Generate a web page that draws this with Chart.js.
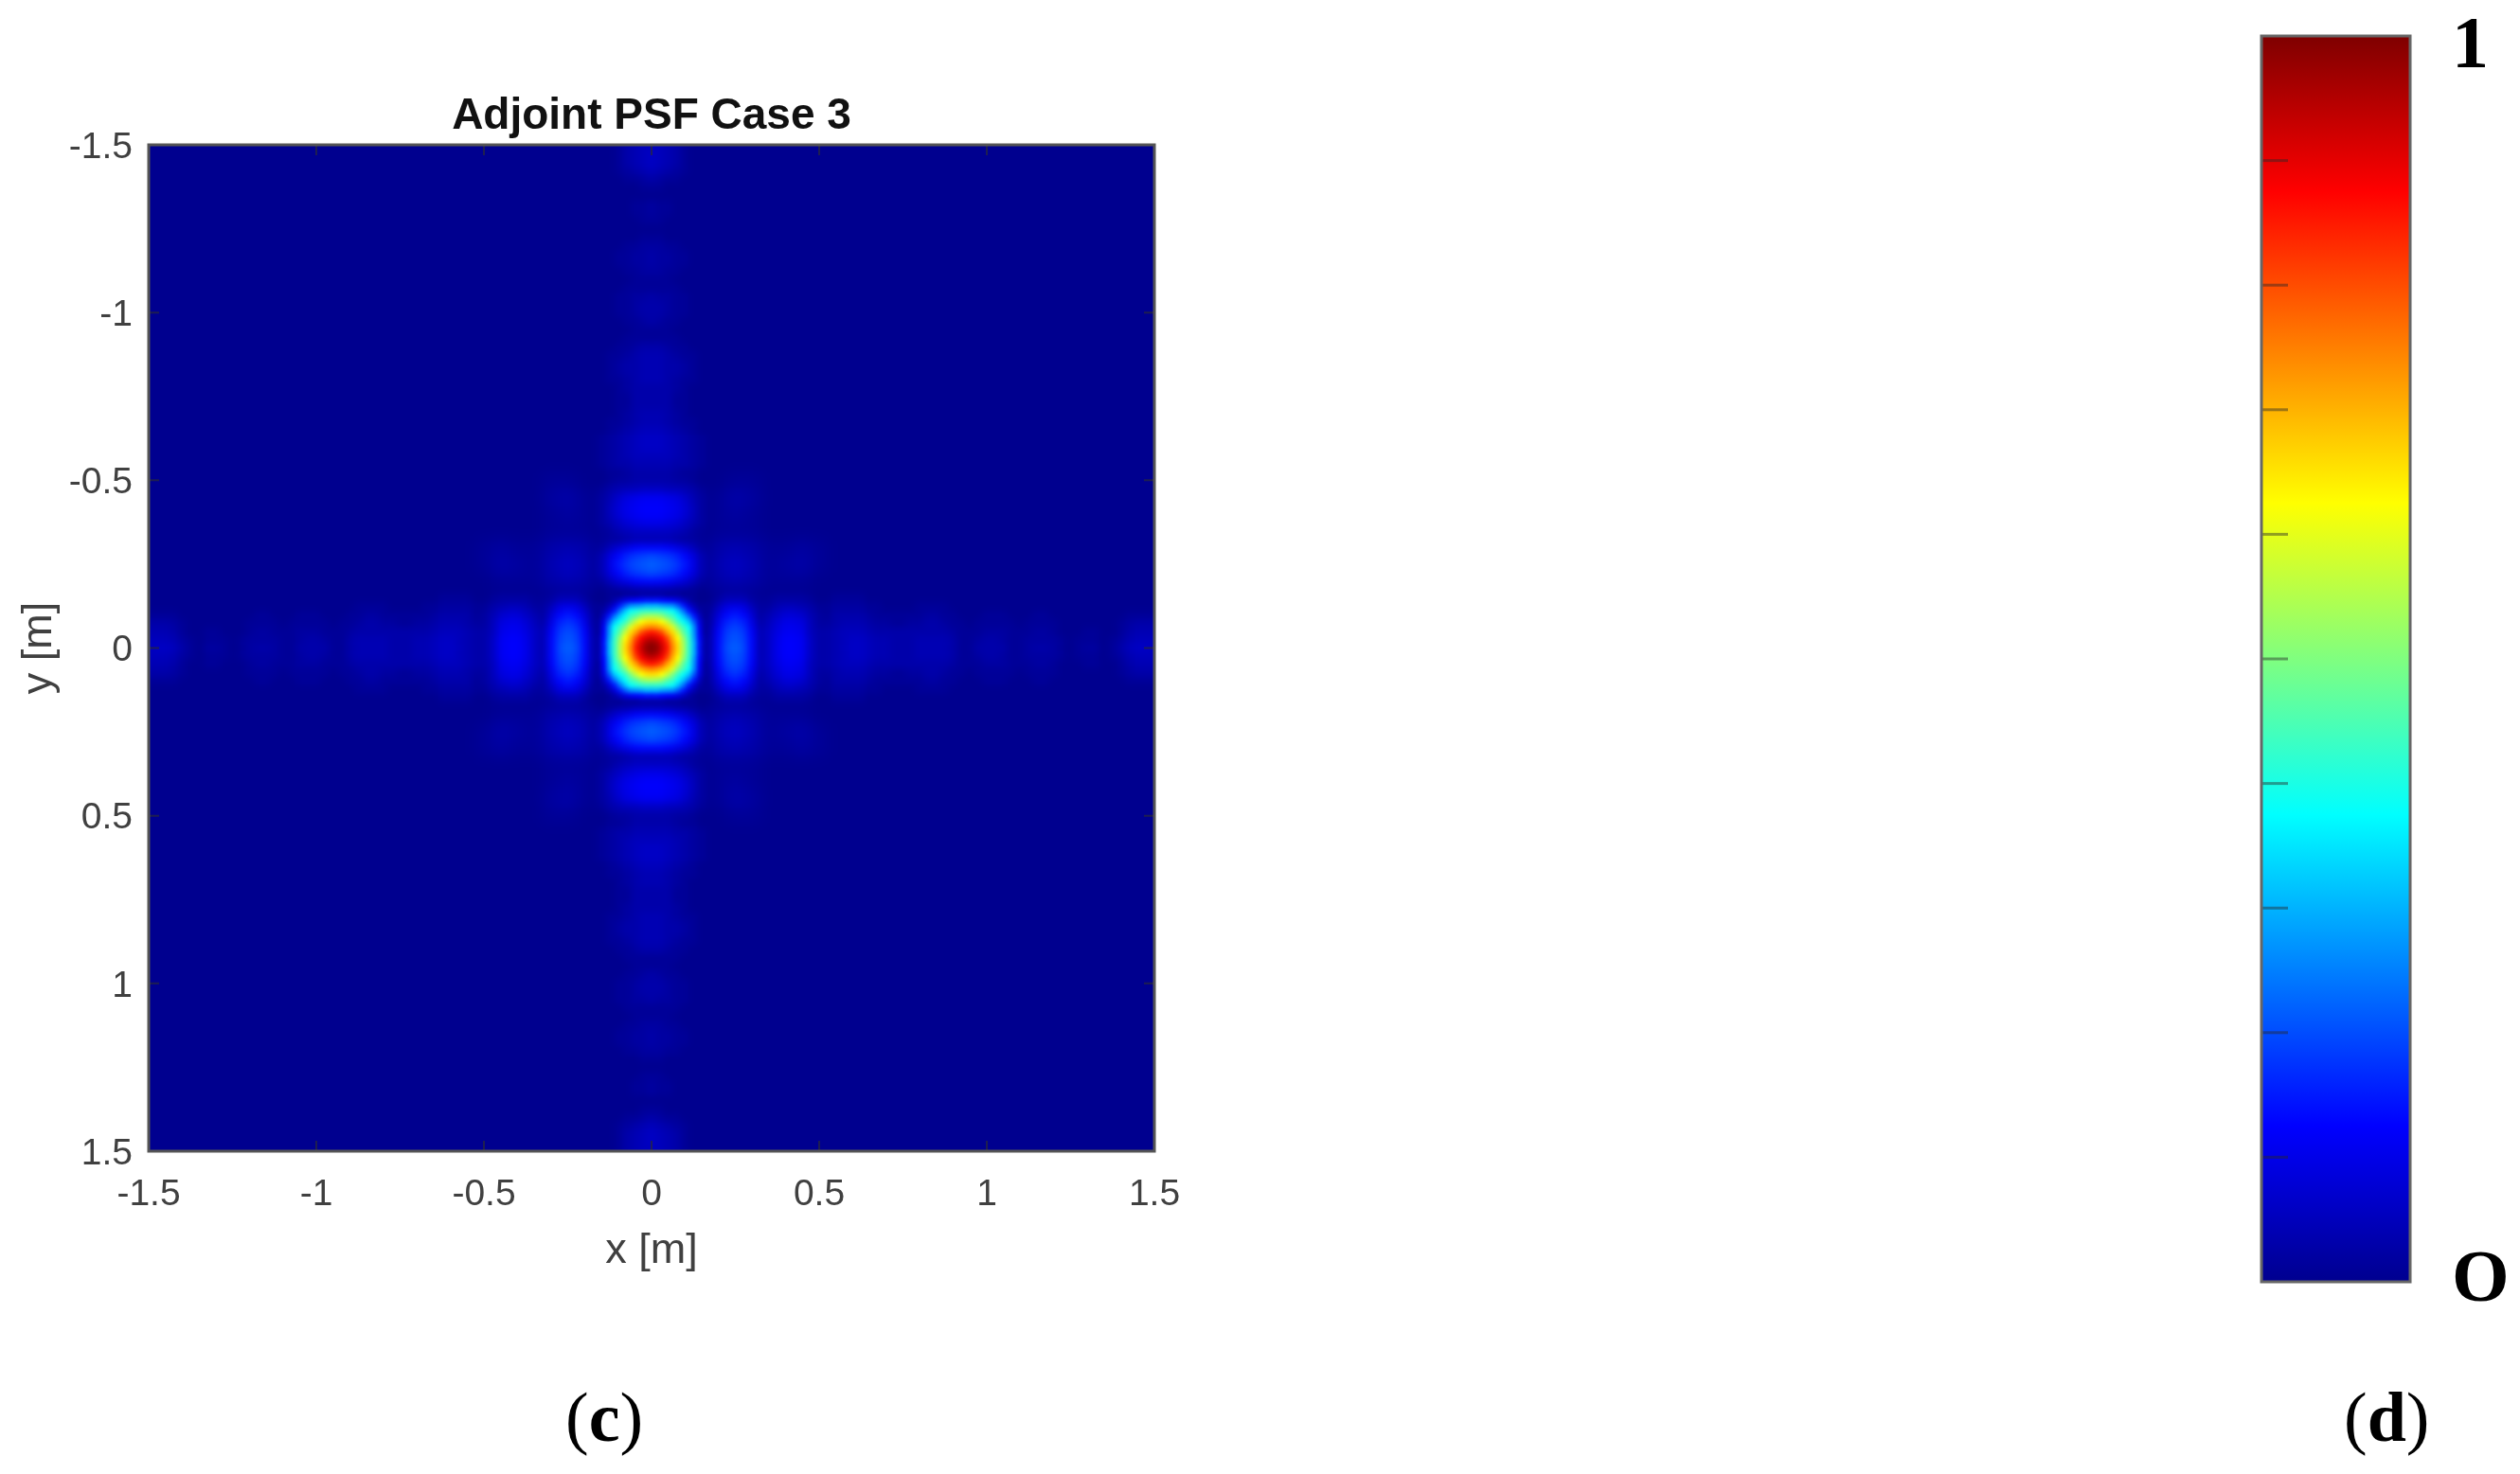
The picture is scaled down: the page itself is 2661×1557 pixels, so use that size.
<!DOCTYPE html>
<html>
<head>
<meta charset="utf-8">
<script src="https://cdn.jsdelivr.net/npm/chart.js@4"></script>
<style>
    html, body { margin: 0; padding: 0; background: #fff; }
    canvas { position: absolute; left: 0; top: 0; }
    .caption { position: absolute; top: 1460px; font: 74px/74px "Liberation Serif", serif; color: #000; }
</style>
</head>
<body>
<canvas id="psf" width="2661" height="1557"></canvas>
<canvas id="bar" width="2661" height="1557"></canvas>
<div class="caption" style="left:597px">(<b>c</b>)</div>
<div class="caption" style="left:2475px">(<b>d</b>)</div>
<script>
var titleText = 'Adjoint PSF Case 3';
var xLabel = 'x [m]';
var yLabel = 'y [m]';
var tickValues = [-1.5, -1, -0.5, 0, 0.5, 1, 1.5];
var barTicks = [0.1, 0.2, 0.3, 0.4, 0.5, 0.6, 0.7, 0.8, 0.9];
// the "1" sits a little below the top edge of the bar in the source
var barLabelTicks = [0, 0.99];
var barLabelText = ['O', '1'];

// jet colormap: value, r, g, b
var jetStops = [[0, 0, 0, 143], [0.125, 0, 0, 255], [0.375, 0, 255, 255], [0.625, 255, 255, 0], [0.875, 255, 0, 0], [1, 127, 0, 0]];

// all levels in percent of the peak
// main lobe, one quadrant, rows y = 0.., columns x = 0..
var coreStep = 0.016;
var coreLevels = [
    [100, 98, 93, 86, 75, 66, 55, 43, 30, 14, 3],
    [98, 96, 91, 84, 73, 65, 54, 43, 30, 14, 3],
    [93, 91, 87, 80, 70, 62, 52, 42, 28, 13, 3],
    [86, 84, 80, 72, 66, 57, 47, 40, 27, 12, 2],
    [75, 73, 70, 66, 59, 50, 44, 38, 26, 11, 2],
    [66, 65, 62, 57, 50, 43, 38, 32, 21, 9, 2],
    [55, 54, 52, 47, 44, 38, 32, 24, 15, 6, 1],
    [43, 43, 42, 40, 38, 32, 24, 15, 8, 3, 1],
    [30, 30, 28, 27, 26, 21, 15, 8, 4, 1, 1],
    [14, 14, 13, 12, 11, 9, 6, 3, 1, 0, 0],
    [3, 3, 3, 2, 2, 2, 1, 1, 1, 0, 0]
];

// arm of the cross, rows are offsets 0..0.15 across it, columns 0.15..1.5 along it
var armStep = 0.025;
var armStart = 0.15;
var armLevels = [
    [3, 3, 13, 20, 22, 20, 13, 4, 6, 10, 12, 12, 11, 6, 3, 3, 4, 5, 6, 6, 5, 4, 4, 3, 3, 3, 4, 4, 4, 4, 3, 1, 1, 3, 3, 3, 3, 1, 1, 2, 3, 3, 2, 1, 0, 1, 2, 2, 0, 1, 3, 5, 6, 6, 5],
    [3, 3, 13, 19, 21, 19, 13, 4, 6, 10, 12, 12, 11, 6, 3, 3, 4, 5, 6, 6, 5, 4, 4, 3, 3, 3, 4, 4, 4, 4, 3, 1, 1, 2, 3, 3, 2, 1, 1, 2, 2, 2, 2, 1, 0, 1, 1, 1, 0, 1, 2, 4, 5, 5, 5],
    [3, 3, 12, 18, 20, 18, 12, 4, 6, 9, 11, 11, 10, 5, 3, 3, 4, 5, 5, 5, 4, 3, 3, 3, 3, 3, 3, 3, 3, 3, 2, 1, 1, 1, 2, 2, 2, 1, 1, 1, 2, 2, 1, 0, 0, 0, 1, 1, 0, 0, 1, 3, 4, 4, 4],
    [2, 2, 10, 16, 18, 16, 10, 3, 5, 8, 10, 10, 9, 5, 2, 2, 3, 4, 4, 4, 3, 2, 2, 1, 1, 2, 2, 3, 3, 2, 1, 1, 0, 1, 1, 1, 1, 1, 0, 1, 1, 1, 1, 0, 0, 0, 0, 0, 0, 0, 1, 2, 3, 3, 3],
    [2, 2, 8, 13, 15, 13, 8, 2, 4, 6, 8, 8, 7, 4, 2, 1, 3, 3, 3, 3, 2, 1, 1, 1, 1, 1, 1, 2, 2, 1, 1, 0, 0, 0, 1, 1, 1, 0, 0, 0, 1, 1, 0, 0, 0, 0, 0, 0, 0, 0, 0, 1, 1, 1, 1],
    [1, 1, 5, 9, 10, 9, 5, 2, 2, 4, 5, 5, 4, 3, 1, 1, 2, 2, 2, 2, 1, 1, 0, 0, 0, 0, 1, 1, 1, 1, 0, 0, 0, 0, 0, 0, 0, 0, 0, 0, 0, 0, 0, 0, 0, 0, 0, 0, 0, 0, 0, 0, 0, 0, 0],
    [0, 0, 2, 4, 4, 4, 2, 1, 1, 2, 2, 2, 2, 1, 0, 0, 1, 1, 1, 1, 0, 0, 0, 0, 0, 0, 0, 0, 0, 0, 0, 0, 0, 0, 0, 0, 0, 0, 0, 0, 0, 0, 0, 0, 0, 0, 0, 0, 0, 0, 0, 0, 0, 0, 0]
];

// faint diagonal side lobes, one quadrant, both directions 0.15..0.55
var lobeStep = 0.05;
var lobeStart = 0.15;
var lobeLevels = [
    [0, 0, 0, 0, 0, 0, 0, 0, 0],
    [0, 3, 4, 3, 1, 1, 1, 0, 0],
    [0, 4, 6, 4, 1, 2, 3, 1, 0],
    [0, 3, 4, 3, 1, 1, 2, 1, 0],
    [0, 1, 1, 1, 0, 0, 0, 0, 0],
    [0, 1, 2, 1, 0, 0, 0, 0, 0],
    [0, 1, 3, 2, 0, 0, 0, 0, 0],
    [0, 0, 1, 1, 0, 0, 0, 0, 0],
    [0, 0, 0, 0, 0, 0, 0, 0, 0]
];

function jet(v) {
    for (var i = 1; i < jetStops.length; i++) {
        var a = jetStops[i - 1], b = jetStops[i];
        if (v <= b[0]) {
            var t = (v - a[0]) / (b[0] - a[0]);
            return 'rgb(' + Math.round(a[1] + (b[1] - a[1]) * t) + ',' + Math.round(a[2] + (b[2] - a[2]) * t) + ',' + Math.round(a[3] + (b[3] - a[3]) * t) + ')';
        }
    }
    return 'rgb(127,0,0)';
}

// the tables hold one quadrant, so every cell goes in four times
function addMirrored(points, x, y, level) {
    [[1, 1], [-1, 1], [1, -1], [-1, -1]].forEach(function (s) {
        points.push({ x: x * s[0], y: y * s[1], level: level });
    });
}

var corePoints = [];
coreLevels.forEach(function (row, j) {
    row.forEach(function (level, i) {
        addMirrored(corePoints, i * coreStep, j * coreStep, level);
    });
});

var armPoints = [];
armLevels.forEach(function (row, j) {
    row.forEach(function (level, i) {
        var along = armStart + i * armStep, across = j * armStep;
        addMirrored(armPoints, along, across, level);
        addMirrored(armPoints, across, along, level);
    });
});

var lobePoints = [];
lobeLevels.forEach(function (row, j) {
    row.forEach(function (level, i) {
        addMirrored(lobePoints, lobeStart + i * lobeStep, lobeStart + j * lobeStep, level);
    });
});

function cellDataset(points, step, blur) {
    return {
        data: points,
        blur: blur,
        showLine: false,
        pointStyle: 'rect',
        pointBorderWidth: 0,
        pointBackgroundColor: function (c) { return c.raw ? jet(c.raw.level / 100) : jet(0); },
        pointRadius: function (c) {
            var area = c.chart.chartArea;
            if (!area) return 1;
            return (step * area.width / 3 + 1) / Math.SQRT2;
        }
    };
}

function drawInwardTicks(ctx, area, scale, horizontal) {
    ctx.strokeStyle = 'rgba(40,40,60,0.75)';
    ctx.lineWidth = 2;
    scale.ticks.forEach(function (t) {
        var p = scale.getPixelForValue(t.value);
        ctx.beginPath();
        if (horizontal) {
            ctx.moveTo(p, area.top); ctx.lineTo(p, area.top + 11);
            ctx.moveTo(p, area.bottom); ctx.lineTo(p, area.bottom - 11);
        } else {
            ctx.moveTo(area.left, p); ctx.lineTo(area.left + 11, p);
            ctx.moveTo(area.right, p); ctx.lineTo(area.right - 11, p);
        }
        ctx.stroke();
    });
}

var heatPlugin = {
    id: 'heat',
    beforeDatasetsDraw: function (chart) {
        var a = chart.chartArea;
        chart.ctx.fillStyle = jet(0);
        chart.ctx.fillRect(a.left, a.top, a.width, a.height);
    },
    afterDatasetDraw: function (chart, args) {
        // the source image is a smooth raster, so soften the cells the scale just placed
        var a = chart.chartArea, ctx = chart.ctx;
        ctx.save();
        ctx.beginPath();
        ctx.rect(a.left, a.top, a.width, a.height);
        ctx.clip();
        ctx.filter = 'blur(' + chart.data.datasets[args.index].blur + 'px)';
        ctx.drawImage(chart.canvas, a.left, a.top, a.width, a.height, a.left, a.top, a.width, a.height);
        ctx.restore();
    },
    afterDatasetsDraw: function (chart) {
        var a = chart.chartArea, ctx = chart.ctx;
        ctx.save();
        drawInwardTicks(ctx, a, chart.scales.x, true);
        drawInwardTicks(ctx, a, chart.scales.y, false);
        ctx.strokeStyle = '#555';
        ctx.lineWidth = 3;
        ctx.strokeRect(a.left, a.top, a.width, a.height);
        ctx.restore();
    }
};

function useTickValues(values) {
    return function (scale) {
        scale.ticks = values.map(function (v) { return { value: v }; });
    };
}

var tickFont = { family: '"Liberation Sans", Arial, sans-serif', size: 39 };
var labelFont = { family: '"Liberation Sans", Arial, sans-serif', size: 45, lineHeight: 1 };

new Chart(document.getElementById('psf'), {
    type: 'scatter',
    data: {
        datasets: [
            cellDataset(corePoints, coreStep, 2),
            cellDataset(armPoints, armStep, 3),
            cellDataset(lobePoints, lobeStep, 7)
        ]
    },
    plugins: [heatPlugin],
    options: {
        responsive: false,
        animation: false,
        devicePixelRatio: 1,
        events: [],
        layout: { padding: { left: 0, top: 0, right: 1442, bottom: 0 } },
        plugins: {
            legend: { display: false },
            tooltip: { enabled: false },
            title: {
                display: true,
                fullSize: false,
                text: titleText,
                color: '#111',
                padding: { top: 100, bottom: 7 },
                font: { family: '"Liberation Sans", Arial, sans-serif', size: 46, weight: 'bold', lineHeight: 1 }
            }
        },
        scales: {
            x: {
                type: 'linear',
                min: -1.5,
                max: 1.5,
                afterFit: function (s) { s.height = 341; },
                afterBuildTicks: useTickValues(tickValues),
                grid: { display: false },
                border: { display: false },
                ticks: {
                    color: '#404040',
                    font: tickFont,
                    padding: 15,
                    maxRotation: 0,
                    autoSkip: false,
                    callback: function (v) { return String(v); }
                },
                title: {
                    display: true,
                    text: xLabel,
                    color: '#404040',
                    font: labelFont,
                    padding: { top: 0, bottom: 213 }
                }
            },
            y: {
                type: 'linear',
                reverse: true,
                min: -1.5,
                max: 1.5,
                afterFit: function (s) { s.width = 157; },
                afterBuildTicks: useTickValues(tickValues),
                grid: { display: false },
                border: { display: false },
                ticks: {
                    color: '#404040',
                    font: tickFont,
                    padding: 9,
                    labelOffset: 3,
                    autoSkip: false,
                    callback: function (v) { return String(v); }
                },
                title: {
                    display: true,
                    text: yLabel,
                    color: '#404040',
                    font: labelFont,
                    padding: { top: 19, bottom: 0 }
                }
            }
        }
    }
});

var barPlugin = {
    id: 'barFrame',
    afterDatasetsDraw: function (chart) {
        var a = chart.chartArea, ctx = chart.ctx, y = chart.scales.y;
        ctx.save();
        ctx.strokeStyle = 'rgba(40,40,40,0.45)';
        ctx.lineWidth = 3;
        barTicks.forEach(function (t) {
            var p = y.getPixelForValue(t);
            ctx.beginPath();
            ctx.moveTo(a.left, p);
            ctx.lineTo(a.left + 28, p);
            ctx.stroke();
        });
        ctx.strokeStyle = '#666';
        ctx.lineWidth = 3;
        ctx.strokeRect(a.left, a.top, a.width, a.height);
        ctx.restore();
    }
};

new Chart(document.getElementById('bar'), {
    type: 'bar',
    data: {
        labels: [''],
        datasets: [{
            data: [1],
            barPercentage: 1,
            categoryPercentage: 1,
            backgroundColor: function (c) {
                var a = c.chart.chartArea;
                if (!a) return jet(0);
                var g = c.chart.ctx.createLinearGradient(0, a.bottom, 0, a.top);
                jetStops.forEach(function (s) {
                    g.addColorStop(s[0], 'rgb(' + s[1] + ',' + s[2] + ',' + s[3] + ')');
                });
                return g;
            }
        }]
    },
    plugins: [barPlugin],
    options: {
        responsive: false,
        animation: false,
        devicePixelRatio: 1,
        events: [],
        layout: { padding: { left: 2388, top: 38, right: 0, bottom: 203 } },
        plugins: { legend: { display: false }, tooltip: { enabled: false } },
        scales: {
            x: { display: false },
            y: {
                position: 'right',
                min: 0,
                max: 1,
                afterFit: function (s) { s.width = 116; s.paddingTop = 0; s.paddingBottom = 0; },
                afterBuildTicks: useTickValues(barLabelTicks),
                grid: { display: false },
                border: { display: false },
                ticks: {
                    color: '#000',
                    padding: 36,
                    autoSkip: false,
                    font: { family: '"Liberation Serif", serif', size: 78, weight: 'bold' },
                    callback: function (v, i) { return barLabelText[i]; }
                }
            }
        }
    }
});
</script>
</body>
</html>
